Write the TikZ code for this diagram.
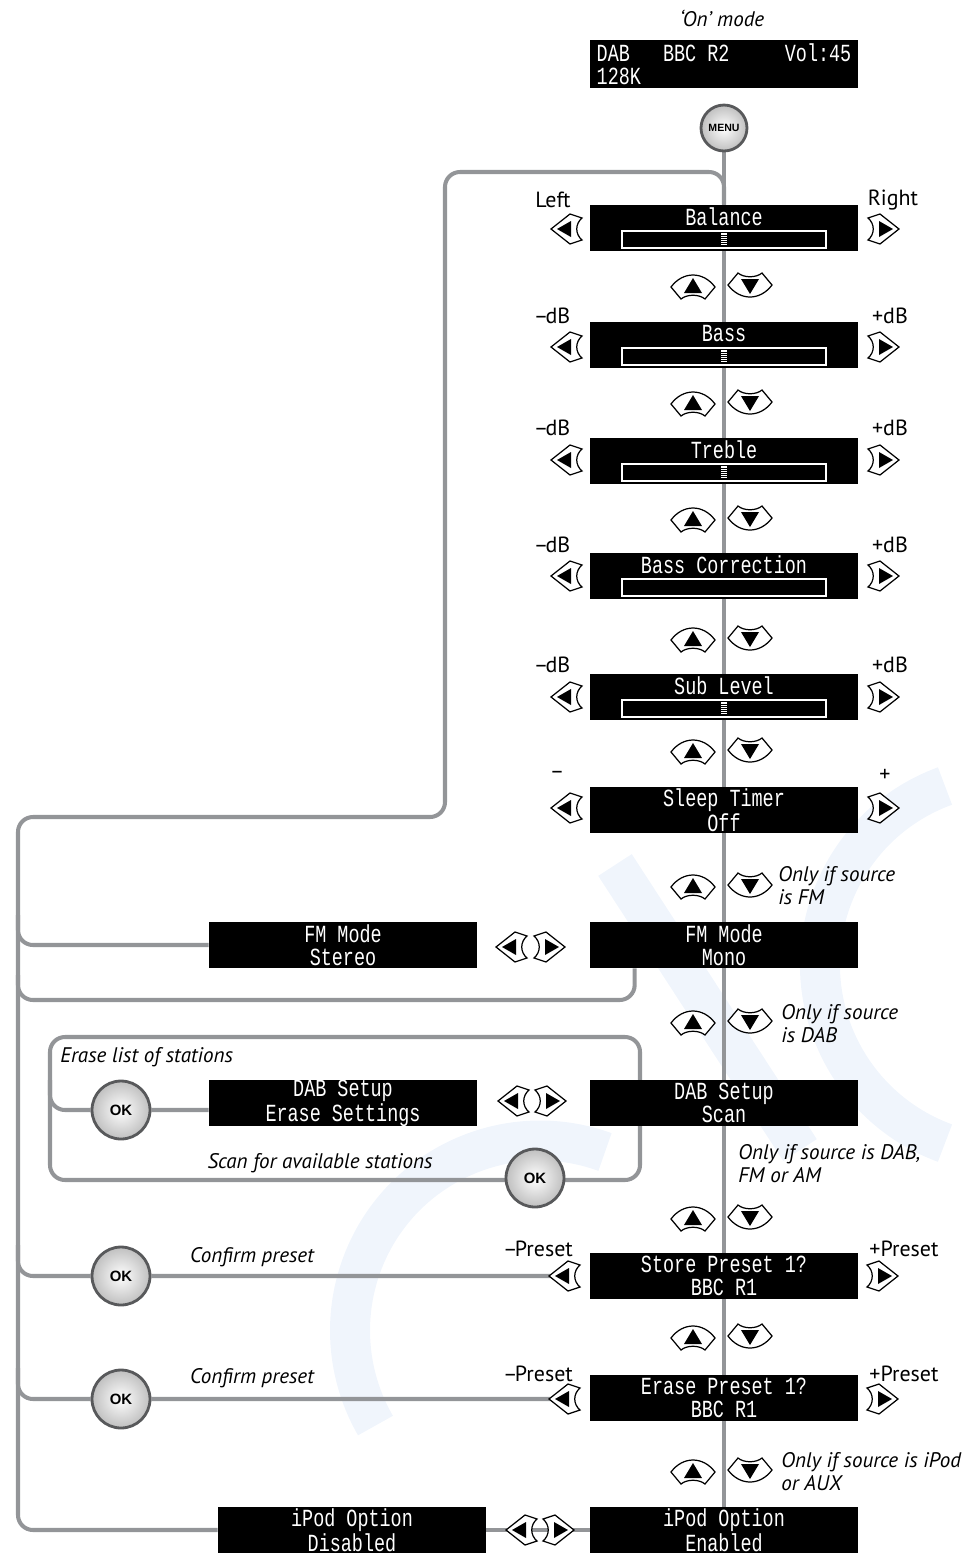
\documentclass[tikz,border=0pt]{standalone}
\usepackage{fontspec}
\setmainfont{PT Sans}
\newfontfamily\lcdfont[FakeStretch=0.75]{Liberation Mono}
\newfontfamily\keyfont{Liberation Sans}
\usepackage{tikz}
\usetikzlibrary{positioning, calc, backgrounds}
\definecolor{wireGray}{RGB}{147,149,152}
\definecolor{keyRim}{RGB}{88,89,91}
\definecolor{markBlue}{RGB}{240,245,252}

\tikzset{
  keyedge/.style={draw=black, fill=white, line width=0.7pt},
  leftkey/.pic={
    \draw[keyedge] (-16,0) -- (3,-15) -- (15,-11) .. controls (8,-5) and (8,5) .. (15,11) -- (3,15) -- cycle;
    \fill (-10,0) -- (4,-8) -- (4,8) -- cycle;
    \coordinate (-c) at (0,0);
  },
  rightkey/.pic={
    \draw[keyedge] (16,0) -- (-3,-15) -- (-15,-11) .. controls (-8,-5) and (-8,5) .. (-15,11) -- (-3,15) -- cycle;
    \fill (10,0) -- (-4,-8) -- (-4,8) -- cycle;
    \coordinate (-c) at (0,0);
  },
  upkey/.pic={
    \draw[keyedge] (-22,1) .. controls (-10,-15) and (10,-15) .. (22,1) -- (12,13) .. controls (6,8) and (-6,8) .. (-12,13) -- cycle;
    \fill (0,-8) -- (-9,7) -- (9,7) -- cycle;
  },
  downkey/.pic={
    \draw[keyedge] (-22,-1) -- (-12,-13) .. controls (-6,-8) and (6,-8) .. (12,-13) -- (22,-1) .. controls (10,15) and (-10,15) .. cycle;
    \fill (0,8) -- (-9,-7) -- (9,-7) -- cycle;
  }
}

\begin{document}
\begin{tikzpicture}[x=0.02cm, y=-0.02cm,
    lcd/.style={fill=black, text=white, font=\lcdfont\fontsize{14}{13}\selectfont, minimum width=5.36cm,
      minimum height=0.92cm, inner sep=0pt, align=center},
    lcdtext/.style={text=white, font=\lcdfont\fontsize{14}{13}\selectfont, inner sep=0pt},
    lcdbar/.style={draw=white, line width=0.6pt},
    wire/.style={draw=wireGray, line width=2.3pt, rounded corners=0.3cm},
    watermark/.style={draw=markBlue, line width=0.8cm},
    roundkey/.style={circle, draw=keyRim, line width=1.6pt, shading=radial, inner color=white, outer color=black!25,
      font=\keyfont\bfseries\fontsize{8.5}{8.5}\selectfont, minimum size=1.16cm, inner sep=0pt},
    keytag/.style={font=\fontsize{12.5}{14}\selectfont, inner sep=0pt},
    hint/.style={font=\itshape\fontsize{12}{13}\selectfont, align=left, anchor=west, inner sep=0pt}
  ]
  \useasboundingbox (0,0) rectangle (965,1553);

  % screens
  \node[lcd, minimum height=0.96cm, align=left] (onscr) at (724,64) {DAB~~~BBC~R2~~~~~Vol:45\\128K};
  \foreach \nm/\yy/\ttl/\mk in {bal/228/Balance/1, bass/345/Bass/1, treb/461/Treble/1, bcor/576/Bass Correction/0, sub/697/Sub Level/1} {
    \node[lcd] (\nm) at (724,\yy) {};
    \node[lcdtext] (\nm-t) at ([shift={(0,-11)}]\nm.center) {\ttl};
    \draw[lcdbar] ([shift={(-102,3)}]\nm.center) rectangle ([shift={(102,20)}]\nm.center);
    \ifnum\mk=1
      \fill[white] ([shift={(-3,5)}]\nm.center) rectangle ([shift={(3,18)}]\nm.center);
      \foreach \s in {7,9,...,17}
        \draw[black, line width=0.3pt] ([shift={(-3,\s)}]\nm.center) -- ([shift={(3,\s)}]\nm.center);
    \fi
  }
  \node[lcd] (sleep) at (724,810) {Sleep Timer\\Off};
  \node[lcd] (fmmono) at (724,945) {FM Mode\\Mono};
  \node[lcd] (fmst) at (343,945) {FM Mode\\Stereo};
  \node[lcd] (dabscan) at (724,1103) {DAB Setup\\Scan};
  \node[lcd] (daberase) at (343,1103) {DAB Setup\\Erase Settings};
  \node[lcd] (store) at (724,1276) {Store Preset 1?\\BBC R1};
  \node[lcd] (erase) at (724,1398) {Erase Preset 1?\\BBC R1};
  \node[lcd] (ipodon) at (724,1530) {iPod Option\\Enabled};
  \node[lcd] (ipodoff) at (352,1530) {iPod Option\\Disabled};

  % round buttons
  \node[roundkey, minimum size=0.92cm, font=\keyfont\bfseries\fontsize{6}{6}\selectfont] (menu) at (724,128) {MENU};
  \node[roundkey] (okerase) at (121,1110) {OK};
  \node[roundkey] (okscan) at (535,1178) {OK};
  \node[roundkey] (okstore) at (121,1276) {OK};
  \node[roundkey] (okdel) at (121,1399) {OK};

  % arrow keys
  \foreach \yy in {229,347,460,576,697,808} {
    \pic at (567,\yy) {leftkey};
    \pic at (883,\yy) {rightkey};
  }
  \pic (spl) at (565,1276) {leftkey};
  \pic (spr) at (882,1276) {rightkey};
  \pic (epl) at (565,1399) {leftkey};
  \pic (epr) at (882,1399) {rightkey};
  \foreach \yy in {286,403,519,639,751,886,1022,1218,1337,1471} {
    \pic at (693,\yy) {upkey};
    \pic at (750,\yy) {downkey};
  }
  \pic (fml) at (512,947) {leftkey};
  \pic (fmr) at (549,947) {rightkey};
  \pic (dabl) at (514,1101) {leftkey};
  \pic (dabr) at (550,1101) {rightkey};
  \pic (ipl) at (522,1530) {leftkey};
  \pic (ipr) at (558,1530) {rightkey};

  % key labels
  \node[keytag] (t-left) at (553,200) {Left};
  \node[keytag] (t-right) at (893,200) {Right};
  \foreach \yy in {316,428,545,665} {
    \node[keytag] (t-m\yy) at (552,\yy) {–\kern-1.5pt dB};
    \node[keytag] (t-p\yy) at (890,\yy) {+dB};
  }
  \node[keytag] (t-minus) at (557,775) {–};
  \node[keytag] (t-plus) at (885,775) {+};
  \node[keytag] (t-sm) at (538,1249) {–\kern-1.5pt Preset};
  \node[keytag] (t-sp) at (904,1249) {+Preset};
  \node[keytag] (t-em) at (538,1374) {–\kern-1.5pt Preset};
  \node[keytag] (t-ep) at (904,1374) {+Preset};

  % notes
  \node[hint, anchor=center] (h-mode) at (722,18) {‘On’ mode};
  \node[hint] (h-fm) at (778,886) {Only if source\\is FM};
  \node[hint] (h-dab) at (781,1024) {Only if source\\is DAB};
  \node[hint] (h-tuner) at (738,1164) {Only if source is DAB,\\FM or AM};
  \node[hint] (h-ipod) at (781,1472) {Only if source is iPod\\or AUX};
  \node[hint] (h-erase) at (60,1057) {Erase list of stations};
  \node[hint, anchor=center] (h-scan) at (320,1163) {Scan for available stations};
  \node[hint, anchor=center] (h-conf1) at (252,1257) {Confirm preset};
  \node[hint, anchor=center] (h-conf2) at (252,1378) {Confirm preset};

  \begin{scope}[on background layer]
    % faint watermark
    \draw[watermark] (615,865) -- (800,1150);
    \draw[watermark] (945,786) arc[start angle=250, end angle=110, radius=190];
    \draw[watermark] (605,1152) arc[start angle=290, end angle=150, radius=190];
    % connectors
    \draw[wire] (menu) -- (ipodon);
    \draw[wire] (bal.north) -- (724,172) -- (445,172) -- (445,817) -- (18,817) |- (ipodoff.west);
    \draw[wire] (18,915) |- (fmst.west);
    \draw[wire] ([xshift=0.9cm]fmmono.south west) |- (18,1000) -- (18,975);
    \draw[wire] (50,1037) rectangle (640,1180);
    \draw[wire] (50,1080) |- (okerase) -- (okerase -| daberase.west);
    \draw[wire] (18,1245) |- (okstore) -- (spl-c);
    \draw[wire] (18,1368) |- (okdel) -- (epl-c);
    \draw[wire] (ipodoff) -- (ipodon);
  \end{scope}
\end{tikzpicture}
\end{document}
